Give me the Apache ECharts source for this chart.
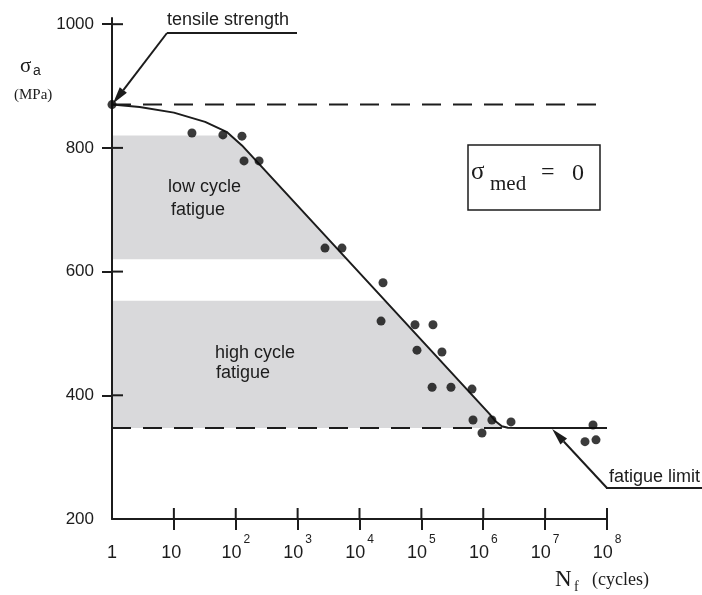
<!DOCTYPE html>
<html>
<head>
<meta charset="utf-8">
<script src="https://cdn.jsdelivr.net/npm/echarts@6/dist/echarts.min.js"></script>
<style>
  html, body { margin: 0; padding: 0; background: #ffffff; }
  #chart { width: 702px; height: 595px; }
</style>
</head>
<body>
<div id="chart"></div>
<script>
// S-N diagram: stress amplitude vs. cycles to failure, zero mean stress

// axis ticks
const cycleTicks = [1, 10, 100, 1e3, 1e4, 1e5, 1e6, 1e7, 1e8];
const stressTicks = [200, 400, 600, 800, 1000];

// material limits (MPa)
const tensileStrength = 870;
const fatigueLimit = 347;

// fitted S-N curve
const curveCycles = [1, 2.8, 10, 32, 71, 126, 1.26e6, 1.58e6, 2.0e6, 2.5e6, 3.5e6, 1e8];
const curveStress = [870, 866, 857, 842, 826, 804, 370, 358, 350, 347.5, 347, 347];

// test specimens
const testCycles = [19.6, 62, 126, 136, 238, 2770, 5210, 24000, 22300, 78900, 154000, 84900,
  215000, 149000, 301000, 658000, 683000, 1.38e6, 955000, 2.81e6, 5.94e7, 4.41e7, 6.64e7];
const testStress = [824, 821, 819, 779, 779, 638, 638, 582, 520, 514, 514, 473,
  470, 413, 413, 410, 360, 360, 339, 357, 352, 325, 328];

// fatigue regimes (stress band under the curve)
const regimeUpper = [820, 553];
const regimeLower = [620, 347];

const INK = '#1c1c1c';
const SHADE = '#d9d9db';
const SANS = '"Liberation Sans", Arial, sans-serif';
const SERIF = '"Liberation Serif", "Times New Roman", serif';

const chart = echarts.init(document.getElementById('chart'), null, { renderer: 'canvas' });

function zip(xs, ys) { return xs.map((x, i) => [x, ys[i]]); }

function regionItem(params, api) {
  const top = api.value(1), bot = api.value(2);
  const pts = curveCycles.map((c, i) => api.coord([c, curveStress[i]]));
  const left = api.coord([1, top]);
  const yTop = left[1];
  const yBot = api.coord([1, bot])[1];
  const xAt = (py) => {
    for (let i = 0; i < pts.length - 1; i++) {
      const a = pts[i], b = pts[i + 1];
      if ((py - a[1]) * (py - b[1]) <= 0 && a[1] !== b[1]) {
        return a[0] + (b[0] - a[0]) * (py - a[1]) / (b[1] - a[1]);
      }
    }
    return pts[pts.length - 1][0];
  };
  const poly = [[left[0], yTop], [xAt(yTop), yTop]];
  pts.forEach(p => { if (p[1] > yTop && p[1] < yBot) poly.push(p); });
  poly.push([xAt(yBot), yBot], [left[0], yBot]);
  return { type: 'polygon', shape: { points: poly }, style: { fill: SHADE } };
}

function cycleLabel(v) {
  const e = Math.round(Math.log10(v));
  if (e === 0) return '{b|1}';
  if (e === 1) return '{b|10}{s| }';
  return '{b|10}{s|' + e + '}';
}

chart.setOption({
  animation: false,
  grid: { left: 112, right: 95, top: 18, bottom: 76 },
  xAxis: {
    type: 'log', logBase: 10, min: 1, max: 1e8,
    position: 'bottom', splitLine: { show: false },
    axisLine: { lineStyle: { color: INK, width: 2 } },
    axisTick: { show: true, inside: false, length: 11, customValues: cycleTicks.slice(1),
      lineStyle: { color: INK, width: 2 } },
    axisLabel: {
      customValues: cycleTicks, margin: 20, formatter: cycleLabel,
      rich: {
        b: { fontFamily: SANS, fontSize: 18, lineHeight: 18, color: INK, padding: [11, 0, 0, 0] },
        s: { fontFamily: SANS, fontSize: 12, lineHeight: 12, color: INK, padding: [0, 0, 17, 2] }
      }
    }
  },
  yAxis: {
    type: 'value', min: 200, max: 1010,
    position: 'left', splitLine: { show: false },
    axisLine: { lineStyle: { color: INK, width: 2 } },
    axisTick: { show: true, inside: false, length: 10, customValues: stressTicks.slice(1),
      lineStyle: { color: INK, width: 2 } },
    axisLabel: { customValues: stressTicks, margin: 18, fontFamily: SANS, fontSize: 17, color: INK,
      formatter: v => String(v) }
  },
  series: [
    {
      type: 'custom', z: -1, silent: true, clip: false,
      renderItem: regionItem,
      encode: { x: 0, y: [1, 2] },
      data: regimeUpper.map((u, i) => [1, u, regimeLower[i]])
    },
    {
      type: 'line', symbol: 'none', silent: true, z: 1,
      lineStyle: { color: INK, width: 2, type: [19, 12] },
      data: [[1, tensileStrength], [1e8, tensileStrength]]
    },
    {
      type: 'line', symbol: 'none', silent: true, z: 1,
      lineStyle: { color: INK, width: 2, type: [19, 12] },
      data: [[1, fatigueLimit], [2e6, fatigueLimit]]
    },
    {
      type: 'line', symbol: 'none', silent: true, z: 2,
      lineStyle: { color: INK, width: 2 },
      data: zip(curveCycles, curveStress)
    },
    {
      type: 'scatter', symbol: 'circle', symbolSize: 9, silent: true, z: 3,
      itemStyle: { color: '#0a0a0a' },
      data: zip(testCycles, testStress)
    },
    {
      type: 'scatter', symbol: 'circle', symbolSize: 9, silent: true, z: 3, clip: false,
      itemStyle: { color: '#0a0a0a' },
      data: [[1, tensileStrength]]
    }
  ]
});

// annotations
function arrow(from, tip) {
  const dx = tip[0] - from[0], dy = tip[1] - from[1];
  const len = Math.hypot(dx, dy), ux = dx / len, uy = dy / len;
  const hl = 17, hw = 4.5;
  const bx = tip[0] - ux * hl, by = tip[1] - uy * hl;
  return [
    { type: 'line', shape: { x1: from[0], y1: from[1], x2: bx, y2: by },
      style: { stroke: INK, lineWidth: 2 } },
    { type: 'polygon', shape: { points: [tip, [bx - uy * hw, by + ux * hw], [bx + uy * hw, by - ux * hw]] },
      style: { fill: INK } }
  ];
}

function txt(x, y, text, font, size, align) {
  return { type: 'text', x: x, y: y,
    style: { text: text, fontFamily: font, fontSize: size, fill: INK,
      align: align || 'left', verticalAlign: 'middle' } };
}

function seg(x1, y1, x2, y2) {
  return { type: 'line', shape: { x1: x1, y1: y1, x2: x2, y2: y2 }, style: { stroke: INK, lineWidth: 2 } };
}

const toPx = v => chart.convertToPixel({ gridIndex: 0 }, v);
const tensileTip = toPx([1, tensileStrength]);
const limitTip = toPx([1.3e7, fatigueLimit]);

// inner halves of the crossing tick marks
const innerTicks = [];
cycleTicks.slice(1).forEach(c => {
  const p = toPx([c, stressTicks[0]]);
  innerTicks.push(seg(p[0], p[1], p[0], p[1] - 11));
});
stressTicks.slice(1).forEach(s => {
  const p = toPx([cycleTicks[0], s]);
  innerTicks.push(seg(p[0], p[1], p[0] + 11, p[1]));
});

const graphics = [
  ...innerTicks,
  // axis titles
  txt(20, 66, 'σ', SERIF, 21),
  txt(33, 71, 'a', SANS, 14),
  txt(14, 95, '(MPa)', SERIF, 15),
  txt(555, 580, 'N', SERIF, 23),
  txt(574, 587, 'f', SERIF, 14),
  txt(592, 580, '(cycles)', SERIF, 18),
  // regime labels
  txt(168, 187, 'low cycle', SANS, 18),
  txt(171, 210, 'fatigue', SANS, 18),
  txt(215, 353, 'high cycle', SANS, 18),
  txt(216, 373, 'fatigue', SANS, 18),
  // tensile strength callout
  txt(167, 20, 'tensile strength', SANS, 18),
  seg(167, 33, 297, 33),
  ...arrow([167, 33], [tensileTip[0] + 1, tensileTip[1] - 1]),
  // fatigue limit callout
  txt(609, 477, 'fatigue limit', SANS, 18),
  seg(606, 488, 702, 488),
  ...arrow([607, 488], [limitTip[0], limitTip[1] + 1]),
  // mean stress box
  { type: 'rect', shape: { x: 468, y: 145, width: 132, height: 65 },
    style: { fill: 'none', stroke: INK, lineWidth: 1.5 } },
  txt(471, 172, 'σ', SERIF, 25),
  txt(490, 184, 'med', SERIF, 21),
  txt(541, 173, '=', SERIF, 24),
  txt(572, 174, '0', SERIF, 24)
];

chart.setOption({ graphic: graphics });
</script>
</body>
</html>
